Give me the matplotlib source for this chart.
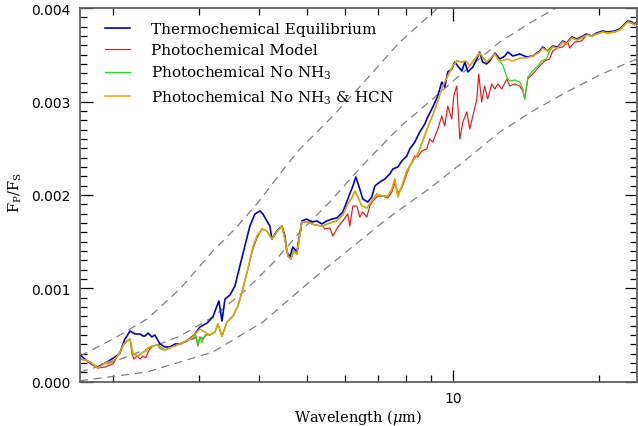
import numpy as np
import matplotlib
matplotlib.use('Agg')
import matplotlib.pyplot as plt
from matplotlib.ticker import LogLocator, NullFormatter, MultipleLocator, FixedLocator

# spectra, wavelength in micron and Fp/Fs in units of 1e-3
wl_thermo = [1.708, 1.766, 1.817, 1.860, 1.905, 1.941, 2.016, 2.064, 2.084, 2.113,
             2.134, 2.165, 2.217, 2.270, 2.302, 2.324, 2.358, 2.402, 2.436, 2.495,
             2.555, 2.617, 2.680, 2.744, 2.837, 2.945, 3.016, 3.118, 3.207, 3.269,
             3.300, 3.348, 3.396, 3.477, 3.560, 3.645, 3.732, 3.822, 3.914, 4.008,
             4.065, 4.143, 4.202, 4.242, 4.344, 4.448, 4.512, 4.555, 4.620, 4.686,
             4.776, 4.890, 5.007, 5.127, 5.250, 5.376, 5.505, 5.637, 5.772, 5.938,
             6.080, 6.227, 6.316, 6.406, 6.528, 6.685, 6.813, 6.911, 7.076, 7.246,
             7.420, 7.526, 7.707, 7.854, 8.042, 8.157, 8.353, 8.553, 8.758, 8.841,
             9.096, 9.315, 9.493, 9.628, 9.766, 9.953, 10.10, 10.24, 10.44, 10.59,
             10.74, 11.00, 11.21, 11.36, 11.52, 11.74, 11.92, 12.21, 12.50, 12.80,
             12.98, 13.29, 13.74, 14.20, 14.61, 15.10, 15.32, 15.68, 16.06, 16.44,
             16.84, 17.16, 17.58, 18.00, 18.42, 18.87, 19.32, 19.79, 20.36, 20.85,
             21.54, 22.06, 22.38, 22.91, 23.35, 23.68, 23.91]
fp_thermo = [0.286, 0.222, 0.179, 0.157, 0.190, 0.211, 0.264, 0.307, 0.372, 0.457,
             0.489, 0.543, 0.511, 0.511, 0.489, 0.489, 0.521, 0.479, 0.500, 0.404,
             0.372, 0.372, 0.404, 0.404, 0.436, 0.511, 0.586, 0.628, 0.693, 0.811,
             0.864, 0.650, 0.885, 0.928, 1.025, 1.239, 1.453, 1.667, 1.796, 1.828,
             1.796, 1.721, 1.667, 1.528, 1.614, 1.667, 1.560, 1.389, 1.335, 1.442,
             1.389, 1.721, 1.742, 1.710, 1.721, 1.689, 1.721, 1.742, 1.753, 1.817,
             1.956, 2.095, 2.192, 2.095, 1.956, 1.924, 1.978, 2.095, 2.138, 2.170,
             2.224, 2.277, 2.299, 2.363, 2.417, 2.492, 2.566, 2.674, 2.759, 2.813,
             2.941, 3.059, 3.209, 3.155, 3.316, 3.348, 3.423, 3.380, 3.327, 3.423,
             3.316, 3.369, 3.455, 3.530, 3.423, 3.402, 3.434, 3.519, 3.455, 3.487,
             3.530, 3.487, 3.509, 3.477, 3.487, 3.541, 3.584, 3.541, 3.594, 3.584,
             3.648, 3.626, 3.691, 3.669, 3.691, 3.723, 3.701, 3.734, 3.755, 3.744,
             3.755, 3.776, 3.808, 3.862, 3.851, 3.830, 3.851]

wl_hcn = [1.708, 1.749, 1.791, 1.860, 1.923, 1.997, 2.035, 2.064, 2.104, 2.134,
          2.165, 2.196, 2.249, 2.302, 2.335, 2.358, 2.402, 2.471, 2.555, 2.642,
          2.744, 2.876, 2.945, 3.016, 3.088, 3.162, 3.238, 3.284, 3.348, 3.428,
          3.527, 3.611, 3.697, 3.786, 3.877, 3.951, 4.046, 4.143, 4.242, 4.344,
          4.448, 4.512, 4.576, 4.642, 4.708, 4.776, 4.890, 5.031, 5.201, 5.401,
          5.584, 5.772, 5.938, 6.080, 6.197, 6.286, 6.376, 6.497, 6.653, 6.813,
          6.977, 7.177, 7.349, 7.491, 7.598, 7.707, 7.854, 8.042, 8.274, 8.472,
          8.675, 8.883, 9.096, 9.315, 9.538, 9.766, 10.00, 10.19, 10.44, 10.64,
          10.84, 11.10, 11.36, 11.52, 11.74, 11.92, 12.21, 12.38, 12.62, 12.92,
          13.29, 13.74, 14.20, 14.61, 15.10, 15.32, 15.68, 16.06, 16.44, 16.84,
          17.16, 17.58, 18.00, 18.42, 18.87, 19.32, 19.79, 20.36, 20.85, 21.54,
          22.06, 22.38, 22.91, 23.35, 23.68, 23.91]
fp_hcn = [0.243, 0.232, 0.211, 0.147, 0.200, 0.222, 0.264, 0.318, 0.404, 0.436,
          0.457, 0.297, 0.275, 0.318, 0.329, 0.361, 0.382, 0.393, 0.339, 0.372,
          0.404, 0.457, 0.511, 0.564, 0.532, 0.500, 0.532, 0.618, 0.489, 0.639,
          0.703, 0.811, 0.993, 1.207, 1.442, 1.560, 1.635, 1.614, 1.528, 1.603,
          1.667, 1.528, 1.346, 1.314, 1.399, 1.367, 1.710, 1.710, 1.678, 1.667,
          1.699, 1.721, 1.785, 1.903, 1.967, 2.042, 1.978, 1.881, 1.860, 1.935,
          2.010, 1.988, 1.988, 2.063, 2.170, 1.978, 2.095, 2.256, 2.363, 2.438,
          2.577, 2.727, 2.856, 3.005, 3.166, 3.273, 3.380, 3.434, 3.423, 3.434,
          3.380, 3.455, 3.519, 3.477, 3.423, 3.455, 3.509, 3.455, 3.434, 3.455,
          3.434, 3.466, 3.466, 3.487, 3.530, 3.573, 3.541, 3.584, 3.573, 3.637,
          3.616, 3.680, 3.659, 3.680, 3.712, 3.701, 3.723, 3.744, 3.734, 3.744,
          3.766, 3.798, 3.851, 3.840, 3.819, 3.840]

wl_nonh3 = [1.708, 1.749, 1.791, 1.860, 1.923, 1.997, 2.035, 2.064, 2.104, 2.134,
            2.165, 2.196, 2.249, 2.302, 2.335, 2.358, 2.402, 2.471, 2.495, 2.555,
            2.642, 2.744, 2.876, 2.917, 2.959, 2.987, 3.016, 3.045, 3.088, 3.162,
            3.238, 3.284, 3.348, 3.428, 3.527, 3.611, 3.697, 3.786, 3.877, 3.951,
            4.046, 4.143, 4.242, 4.344, 4.448, 4.512, 4.576, 4.642, 4.708, 4.776,
            4.890, 5.031, 5.201, 5.401, 5.584, 5.772, 5.938, 6.080, 6.197, 6.286,
            6.376, 6.497, 6.653, 6.813, 6.977, 7.177, 7.349, 7.491, 7.598, 7.707,
            7.854, 8.042, 8.274, 8.472, 8.675, 8.883, 9.096, 9.315, 9.538, 9.766,
            10.00, 10.19, 10.44, 10.64, 10.84, 11.10, 11.36, 11.52, 11.74, 11.92,
            12.21, 12.38, 12.68, 12.92, 13.10, 13.41, 13.74, 13.94, 14.07, 14.27,
            14.61, 14.96, 15.24, 15.61, 15.83, 16.06, 16.44, 16.84, 17.16, 17.58,
            18.00, 18.42, 18.87, 19.32, 19.79, 20.36, 20.85, 21.54, 22.06, 22.38,
            22.91, 23.35, 23.68, 23.91]
fp_nonh3 = [0.243, 0.232, 0.211, 0.147, 0.200, 0.222, 0.264, 0.318, 0.404, 0.436,
            0.457, 0.297, 0.275, 0.318, 0.329, 0.361, 0.382, 0.393, 0.350, 0.339,
            0.372, 0.404, 0.457, 0.479, 0.500, 0.393, 0.479, 0.414, 0.500, 0.500,
            0.532, 0.618, 0.489, 0.639, 0.703, 0.811, 0.993, 1.207, 1.442, 1.560,
            1.635, 1.614, 1.528, 1.603, 1.667, 1.528, 1.346, 1.314, 1.399, 1.367,
            1.710, 1.710, 1.678, 1.667, 1.699, 1.721, 1.785, 1.903, 1.967, 2.042,
            1.978, 1.881, 1.860, 1.935, 2.010, 1.988, 1.988, 2.063, 2.170, 1.978,
            2.095, 2.256, 2.363, 2.438, 2.577, 2.727, 2.856, 3.005, 3.166, 3.273,
            3.380, 3.434, 3.423, 3.434, 3.380, 3.455, 3.519, 3.477, 3.423, 3.455,
            3.509, 3.455, 3.391, 3.262, 3.220, 3.230, 3.209, 3.134, 3.027, 3.262,
            3.327, 3.380, 3.434, 3.455, 3.541, 3.584, 3.573, 3.637, 3.616, 3.680,
            3.659, 3.680, 3.712, 3.701, 3.723, 3.744, 3.734, 3.744, 3.766, 3.798,
            3.851, 3.840, 3.819, 3.840]

wl_photo = [1.708, 1.749, 1.791, 1.860, 1.923, 1.969, 1.997, 2.035, 2.064, 2.104,
            2.134, 2.165, 2.186, 2.206, 2.238, 2.270, 2.302, 2.335, 2.358, 2.402,
            2.471, 2.555, 2.642, 2.744, 2.876, 2.917, 2.959, 2.987, 3.016, 3.059,
            3.118, 3.162, 3.238, 3.284, 3.348, 3.428, 3.527, 3.611, 3.697, 3.786,
            3.877, 3.951, 4.046, 4.143, 4.242, 4.344, 4.448, 4.512, 4.576, 4.642,
            4.708, 4.776, 4.890, 5.031, 5.201, 5.401, 5.453, 5.584, 5.664, 5.800,
            5.938, 6.080, 6.139, 6.227, 6.346, 6.436, 6.528, 6.653, 6.749, 6.846,
            7.010, 7.177, 7.349, 7.491, 7.598, 7.707, 7.854, 8.042, 8.157, 8.353,
            8.472, 8.634, 8.841, 8.968, 9.096, 9.315, 9.493, 9.628, 9.766, 9.953,
            10.05, 10.19, 10.34, 10.49, 10.69, 10.84, 11.00, 11.21, 11.31, 11.47,
            11.63, 11.80, 12.03, 12.21, 12.38, 12.62, 12.92, 13.10, 13.41, 13.74,
            13.94, 14.07, 14.27, 14.61, 15.10, 15.46, 15.83, 16.06, 16.44, 16.84,
            17.24, 17.41, 17.83, 18.42, 18.87, 19.32, 19.79, 20.36, 20.85, 21.54,
            22.06, 22.38, 22.91, 23.35, 23.68, 23.91]
fp_photo = [0.243, 0.232, 0.211, 0.147, 0.157, 0.179, 0.190, 0.264, 0.318, 0.404,
            0.436, 0.457, 0.297, 0.243, 0.275, 0.243, 0.275, 0.254, 0.318, 0.382,
            0.393, 0.339, 0.372, 0.404, 0.457, 0.457, 0.479, 0.382, 0.479, 0.457,
            0.511, 0.500, 0.532, 0.618, 0.489, 0.639, 0.703, 0.811, 0.993, 1.207,
            1.420, 1.540, 1.635, 1.614, 1.528, 1.603, 1.667, 1.528, 1.346, 1.314,
            1.399, 1.367, 1.710, 1.710, 1.678, 1.667, 1.635, 1.646, 1.560, 1.656,
            1.721, 1.796, 1.667, 1.881, 1.881, 1.763, 1.817, 1.763, 1.881, 1.935,
            1.988, 1.988, 1.967, 2.031, 2.127, 2.020, 2.074, 2.224, 2.309, 2.417,
            2.406, 2.470, 2.492, 2.598, 2.566, 2.705, 2.845, 2.738, 2.952, 2.813,
            3.059, 3.166, 2.598, 2.781, 2.888, 2.705, 2.845, 3.027, 3.295, 2.995,
            3.166, 3.027, 3.188, 3.134, 3.188, 3.134, 3.241, 3.166, 3.188, 3.166,
            3.113, 3.027, 3.241, 3.295, 3.380, 3.434, 3.455, 3.541, 3.573, 3.584,
            3.637, 3.573, 3.637, 3.648, 3.712, 3.701, 3.723, 3.744, 3.734, 3.744,
            3.766, 3.798, 3.851, 3.840, 3.819, 3.840]

# gray dashed reference curves
wl_hot = [1.708, 1.997, 2.347, 2.744, 3.207, 3.560, 3.951, 4.469, 4.844, 5.664,
          6.653, 7.780, 9.271, 10.34]
fp_hot = [0.275, 0.457, 0.671, 0.993, 1.399, 1.635, 1.903, 2.267, 2.492, 2.845,
          3.241, 3.637, 3.991, 4.226]
wl_mid = [1.708, 1.997, 2.347, 2.744, 3.207, 3.768, 4.303, 4.844, 5.584, 6.227,
          6.653, 7.780, 9.096, 10.69, 12.50, 14.40, 16.60]
fp_mid = [0.104, 0.211, 0.350, 0.489, 0.693, 0.993, 1.292, 1.603, 1.924, 2.202,
          2.363, 2.727, 3.027, 3.348, 3.637, 3.840, 4.023]
wl_cold = [1.708, 2.347, 3.207, 4.065, 5.152, 5.854, 7.315, 9.096, 10.69, 12.50,
           14.61, 17.16, 20.07, 23.91]
fp_cold = [0.010, 0.104, 0.318, 0.639, 1.100, 1.335, 1.742, 2.095, 2.384, 2.674,
           2.898, 3.102, 3.284, 3.455]

labels = ['Thermochemical Equilibrium', 'Photochemical Model',
          'Photochemical No NH$_3$', 'Photochemical No NH$_3$ & HCN']
colors = ['#0000e0', '#ff1010', '#20e020', '#e8a200']

plt.rcParams['mathtext.fontset'] = 'dejavuserif'

fig = plt.figure(figsize=(6.38, 4.27), dpi=100)
ax = fig.add_axes([0.1254, 0.1037, 0.873, 0.875])

for wl, fp in [(wl_hot, fp_hot), (wl_mid, fp_mid), (wl_cold, fp_cold)]:
    ax.plot(wl, np.array(fp) * 1e-3, color='#808080', lw=0.9,
            dashes=(6.5, 4.5))

series = [(wl_thermo, fp_thermo), (wl_photo, fp_photo),
          (wl_nonh3, fp_nonh3), (wl_hcn, fp_hcn)]
widths = [1.2, 0.85, 0.9, 1.1]
for (wl, fp), c, lab, w in zip(series, colors, labels, widths):
    ax.plot(wl, np.array(fp) * 1e-3, color=c, lw=w, label=lab)

ax.set_xscale('log')
ax.set_xlim(1.708, 23.95)
ax.set_ylim(0, 0.004)

ax.xaxis.set_major_locator(FixedLocator([10]))
ax.xaxis.set_major_formatter(plt.FuncFormatter(lambda v, p: '%d' % v))
ax.xaxis.set_minor_locator(LogLocator(base=10, subs=np.arange(2, 10)))
ax.xaxis.set_minor_formatter(NullFormatter())
ax.yaxis.set_major_locator(MultipleLocator(0.001))
ax.yaxis.set_minor_locator(MultipleLocator(0.0001))
ax.yaxis.set_major_formatter(plt.FuncFormatter(lambda v, p: '%.3f' % v))

ax.tick_params(which='both', direction='in', top=True, right=True,
               color='black', width=0.9)
ax.tick_params(which='major', length=9, labelsize=10, pad=7)
ax.tick_params(which='minor', length=5)
for lab in ax.get_xticklabels() + ax.get_yticklabels():
    lab.set_family('DejaVu Sans')
for s in ax.spines.values():
    s.set_color('#606060')
    s.set_linewidth(1.3)

ax.set_xlabel('Wavelength ($\\mu$m)', family='DejaVu Serif', fontsize=10.5)
ax.xaxis.set_label_coords(0.5, -0.068)
ax.set_ylabel('$\\mathrm{F_P/F_S}$', family='DejaVu Serif', fontsize=10.5)
ax.yaxis.set_label_coords(-0.1, 0.51)

leg = ax.legend(loc='upper left', bbox_to_anchor=(0.045, 0.962), frameon=False,
                borderpad=0, borderaxespad=0, handlelength=1.6,
                handletextpad=1.4, labelspacing=0.45,
                prop={'family': 'DejaVu Serif', 'size': 11})

fig.savefig('out.png', dpi=100)
